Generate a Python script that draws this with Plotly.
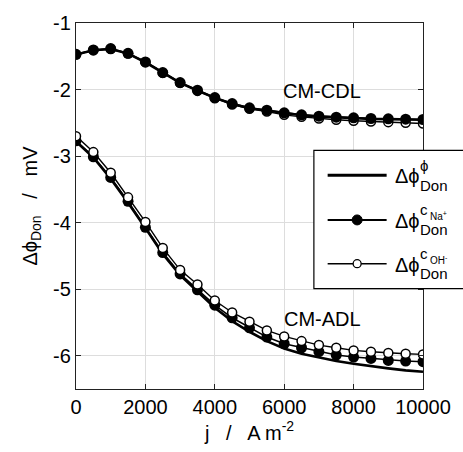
import plotly.graph_objects as go

# ---------------- data ----------------
j = [0, 500, 1000, 1500, 2000, 2500, 3000, 3500, 4000, 4500, 5000,
     5500, 6000, 6500, 7000, 7500, 8000, 8500, 9000, 9500, 10000]

cdl_phi = [-1.475, -1.41, -1.39, -1.46, -1.59, -1.75, -1.90, -2.015, -2.125, -2.215, -2.28,
           -2.315, -2.355, -2.385, -2.405, -2.42, -2.43, -2.44, -2.445, -2.45, -2.455]
cdl_na = [-1.47, -1.405, -1.385, -1.455, -1.585, -1.745, -1.895, -2.01, -2.12, -2.21, -2.275,
          -2.31, -2.35, -2.38, -2.40, -2.415, -2.425, -2.435, -2.44, -2.445, -2.45]
cdl_oh = [-1.475, -1.41, -1.39, -1.46, -1.59, -1.75, -1.90, -2.02, -2.13, -2.225, -2.29,
          -2.33, -2.38, -2.41, -2.435, -2.455, -2.47, -2.48, -2.49, -2.50, -2.51]

adl_phi = [-2.78, -3.02, -3.34, -3.70, -4.08, -4.47, -4.79, -5.04, -5.28, -5.48, -5.64,
           -5.78, -5.89, -5.97, -6.03, -6.08, -6.12, -6.16, -6.19, -6.22, -6.24]
adl_na = [-2.77, -3.01, -3.32, -3.68, -4.07, -4.45, -4.77, -5.01, -5.24, -5.43, -5.58,
          -5.72, -5.82, -5.88, -5.94, -5.99, -6.02, -6.04, -6.07, -6.08, -6.09]
adl_oh = [-2.70, -2.94, -3.25, -3.62, -3.99, -4.38, -4.71, -4.93, -5.17, -5.35, -5.49,
          -5.62, -5.71, -5.78, -5.84, -5.88, -5.92, -5.94, -5.96, -5.97, -5.98]

x_ticks = [0, 2000, 4000, 6000, 8000, 10000]
x_ticktext = ["0", "2000", "4000", "6000", "8000", "10000"]
y_ticks = [-1, -2, -3, -4, -5, -6]
y_ticktext = ["-1", "-2", "-3", "-4", "-5", "-6"]

labels = [("CM-CDL", 7100, -2.02), ("CM-ADL", 7100, -5.45)]

FONT = "Liberation Sans, Arial, sans-serif"
PHI = "\u03d5"

# ---------------- layout geometry ----------------
W, H = 463, 452
L, R, T, B = 76, 34, 22, 62
PW, PH = W - L - R, H - T - B


def px(xp):
    return (xp - L) / PW


def py(yp):
    return (H - B - yp) / PH


fig = go.Figure()


def add_phi(y):
    fig.add_trace(go.Scatter(x=j, y=y, mode="lines",
                             line=dict(color="black", width=2.6), showlegend=False))


def add_na(y):
    fig.add_trace(go.Scatter(x=j, y=y, mode="lines+markers",
                             line=dict(color="black", width=1.6),
                             marker=dict(symbol="circle", size=11, color="black"),
                             showlegend=False))


def add_oh(y):
    fig.add_trace(go.Scatter(x=j, y=y, mode="lines+markers",
                             line=dict(color="black", width=1.4),
                             marker=dict(symbol="circle", size=9, color="white",
                                         line=dict(color="black", width=1.5)),
                             showlegend=False))


# CM-CDL: filled markers drawn over the open ones
add_phi(cdl_phi)
add_oh(cdl_oh)
add_na(cdl_na)
# CM-ADL
add_phi(adl_phi)
add_na(adl_na)
add_oh(adl_oh)

annotations = []
for text, xa, ya in labels:
    annotations.append(dict(x=xa, y=ya, xref="x", yref="y", text=text, showarrow=False,
                            font=dict(family=FONT, size=20, color="black")))

# ---------------- custom legend ----------------
shapes = [dict(type="rect", xref="paper", yref="paper", x0=px(318), x1=px(475),
               y0=py(289), y1=py(150), fillcolor="white",
               line=dict(color="black", width=1.2), layer="above")]

rows = [175, 220, 264]
lx0, lx1, lmid = 332, 392, 362
widths = [3, 2, 1.5]
for i, yr in enumerate(rows):
    shapes.append(dict(type="line", xref="paper", yref="paper", x0=px(lx0), x1=px(lx1),
                       y0=py(yr), y1=py(yr), line=dict(color="black", width=widths[i]),
                       layer="above"))
shapes.append(dict(type="circle", xref="paper", yref="paper", xsizemode="pixel",
                   ysizemode="pixel", xanchor=px(lmid), yanchor=py(rows[1]),
                   x0=-5, x1=5, y0=-5, y1=5, fillcolor="black",
                   line=dict(color="black", width=1), layer="above"))
shapes.append(dict(type="circle", xref="paper", yref="paper", xsizemode="pixel",
                   ysizemode="pixel", xanchor=px(lmid), yanchor=py(rows[2]),
                   x0=-4, x1=4, y0=-4, y1=4, fillcolor="white",
                   line=dict(color="black", width=1.3), layer="above"))

sups = [PHI, "c", "c"]
subsups = ["", "Na<sup>+</sup>", "OH<sup>-</sup>"]
for i, yr in enumerate(rows):
    annotations.append(dict(x=px(398), y=py(yr + 1), xref="paper", yref="paper",
                            text="Δ" + PHI, showarrow=False, xanchor="left", yanchor="middle",
                            font=dict(family=FONT, size=20, color="black")))
    annotations.append(dict(x=px(424), y=py(yr - 10), xref="paper", yref="paper",
                            text=sups[i], showarrow=False, xanchor="left", yanchor="middle",
                            font=dict(family=FONT, size=15, color="black")))
    annotations.append(dict(x=px(424), y=py(yr + 10), xref="paper", yref="paper",
                            text="Don", showarrow=False, xanchor="left", yanchor="middle",
                            font=dict(family=FONT, size=15, color="black")))
    if subsups[i]:
        annotations.append(dict(x=px(434), y=py(yr - 4), xref="paper", yref="paper",
                                text=subsups[i], showarrow=False, xanchor="left",
                                yanchor="middle",
                                font=dict(family=FONT, size=10, color="black")))

axis_common = dict(showline=True, linecolor="#222", linewidth=1.2, mirror="ticks",
                   ticks="inside", ticklen=5, tickcolor="#222", showgrid=True,
                   gridcolor="#dddddd", gridwidth=1, zeroline=False,
                   tickfont=dict(family=FONT, size=20, color="black"))

fig.update_layout(
    width=W, height=H,
    margin=dict(l=L, r=R, t=T, b=B, pad=0),
    paper_bgcolor="white", plot_bgcolor="white",
    showlegend=False,
    xaxis=dict(range=[0, 10000], tickvals=x_ticks, ticktext=x_ticktext,
               title=dict(text="j   /   A m<sup>-2</sup>", standoff=8,
                          font=dict(family=FONT, size=20, color="black")),
               **axis_common),
    yaxis=dict(range=[-6.5, -1], tickvals=y_ticks, ticktext=y_ticktext,
               title=dict(text="Δ" + PHI + "<sub>Don</sub>   /   mV", standoff=10,
                          font=dict(family=FONT, size=20, color="black")),
               **axis_common),
    shapes=shapes,
    annotations=annotations,
)

fig.write_html("out.html")
